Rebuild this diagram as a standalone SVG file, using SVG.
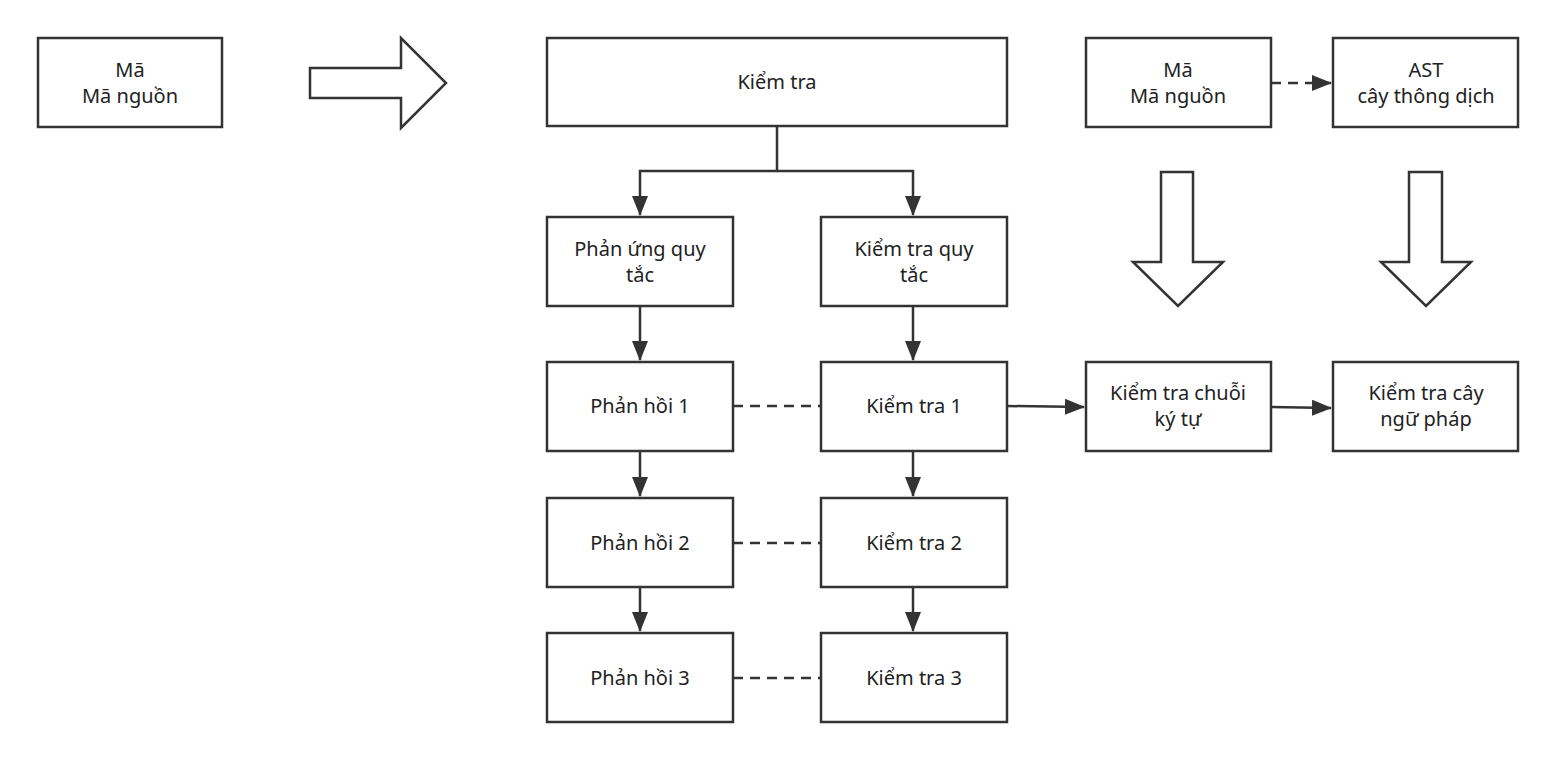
<svg xmlns="http://www.w3.org/2000/svg" width="1555" height="759" viewBox="0 0 1555 759">
<style>
.b{fill:#fff;stroke:#333;stroke-width:2.5}
.t{font-family:"Noto Sans","Liberation Sans",sans-serif;font-size:20px;fill:#222;text-anchor:middle}
.c{fill:none;stroke:#333;stroke-width:2.5}
.d{stroke-dasharray:10 7}
</style>
<defs><marker id="a" markerWidth="10" markerHeight="10" refX="9" refY="5" orient="auto" markerUnits="userSpaceOnUse" viewBox="0 0 10 10"><path d="M0,0L10,5L0,10z" fill="#333"/></marker>
<marker id="a2" markerWidth="20" markerHeight="16" refX="19" refY="8" orient="auto" markerUnits="userSpaceOnUse" viewBox="0 0 20 16"><path d="M0,0L20,8L0,16z" fill="#333"/></marker></defs>
<rect width="1555" height="759" fill="#fff"/>
<g id="n1"><rect class="b" x="38" y="38" width="184" height="89"/><text class="t" x="130" y="77">Mā</text><text class="t" x="130" y="103">Mā nguồn</text></g>
<g id="bigarrow1"><path class="b" d="M310,68H401V38L446,83L401,128V98H310Z"/></g>
<g id="n2"><rect class="b" x="547" y="38" width="460" height="88"/><text class="t" x="777" y="89">Kiểm tra</text></g>
<g id="n3"><rect class="b" x="547" y="217" width="186" height="89"/><text class="t" x="640" y="256">Phản ứng quy</text><text class="t" x="640" y="282">tắc</text></g>
<g id="n4"><rect class="b" x="821" y="217" width="186" height="89"/><text class="t" x="914" y="256">Kiểm tra quy</text><text class="t" x="914" y="282">tắc</text></g>
<g id="n5"><rect class="b" x="547" y="362" width="186" height="89"/><text class="t" x="640" y="413">Phản hồi 1</text></g>
<g id="n6"><rect class="b" x="821" y="362" width="186" height="89"/><text class="t" x="914" y="413">Kiểm tra 1</text></g>
<g id="n7"><rect class="b" x="547" y="498" width="186" height="89"/><text class="t" x="640" y="550">Phản hồi 2</text></g>
<g id="n8"><rect class="b" x="821" y="498" width="186" height="89"/><text class="t" x="914" y="550">Kiểm tra 2</text></g>
<g id="n9"><rect class="b" x="547" y="633" width="186" height="89"/><text class="t" x="640" y="685">Phản hồi 3</text></g>
<g id="n10"><rect class="b" x="821" y="633" width="186" height="89"/><text class="t" x="914" y="685">Kiểm tra 3</text></g>
<g id="n11"><rect class="b" x="1086" y="38" width="185" height="89"/><text class="t" x="1178" y="77">Mā</text><text class="t" x="1178" y="103">Mā nguồn</text></g>
<g id="n12"><rect class="b" x="1333" y="38" width="185" height="89"/><text class="t" x="1426" y="77">AST</text><text class="t" x="1426" y="103">cây thông dịch</text></g>
<g id="n13"><rect class="b" x="1086" y="362" width="185" height="89"/><text class="t" x="1178" y="400">Kiểm tra chuỗi</text><text class="t" x="1178" y="426">ký tự</text></g>
<g id="n14"><rect class="b" x="1333" y="362" width="185" height="89"/><text class="t" x="1426" y="400">Kiểm tra cây</text><text class="t" x="1426" y="426">ngữ pháp</text></g>
<g id="bigarrow2"><path class="b" d="M1161,172H1193V262H1223L1178,306L1133,262H1161Z"/></g>
<g id="bigarrow3"><path class="b" d="M1409,172H1442V262H1471L1426,306L1381,262H1409Z"/></g>
<g id="connectors">
<path class="c" d="M777,126V171H640V215" marker-end="url(#a2)"/>
<path class="c" d="M777,171H913V215" marker-end="url(#a2)"/>
<path class="c" d="M640,306V360" marker-end="url(#a2)"/>
<path class="c" d="M913,306V360" marker-end="url(#a2)"/>
<path class="c" d="M640,451V496" marker-end="url(#a2)"/>
<path class="c" d="M913,451V496" marker-end="url(#a2)"/>
<path class="c" d="M640,587V631" marker-end="url(#a2)"/>
<path class="c" d="M913,587V631" marker-end="url(#a2)"/>
<path class="c d" d="M733,406H821"/>
<path class="c d" d="M733,543H821"/>
<path class="c d" d="M733,678H821"/>
<path class="c d" d="M1271,83H1331" marker-end="url(#a2)"/>
<path class="c" d="M1007,406L1084,407" marker-end="url(#a2)"/>
<path class="c" d="M1271,407L1331,408" marker-end="url(#a2)"/>
</g>
</svg>
